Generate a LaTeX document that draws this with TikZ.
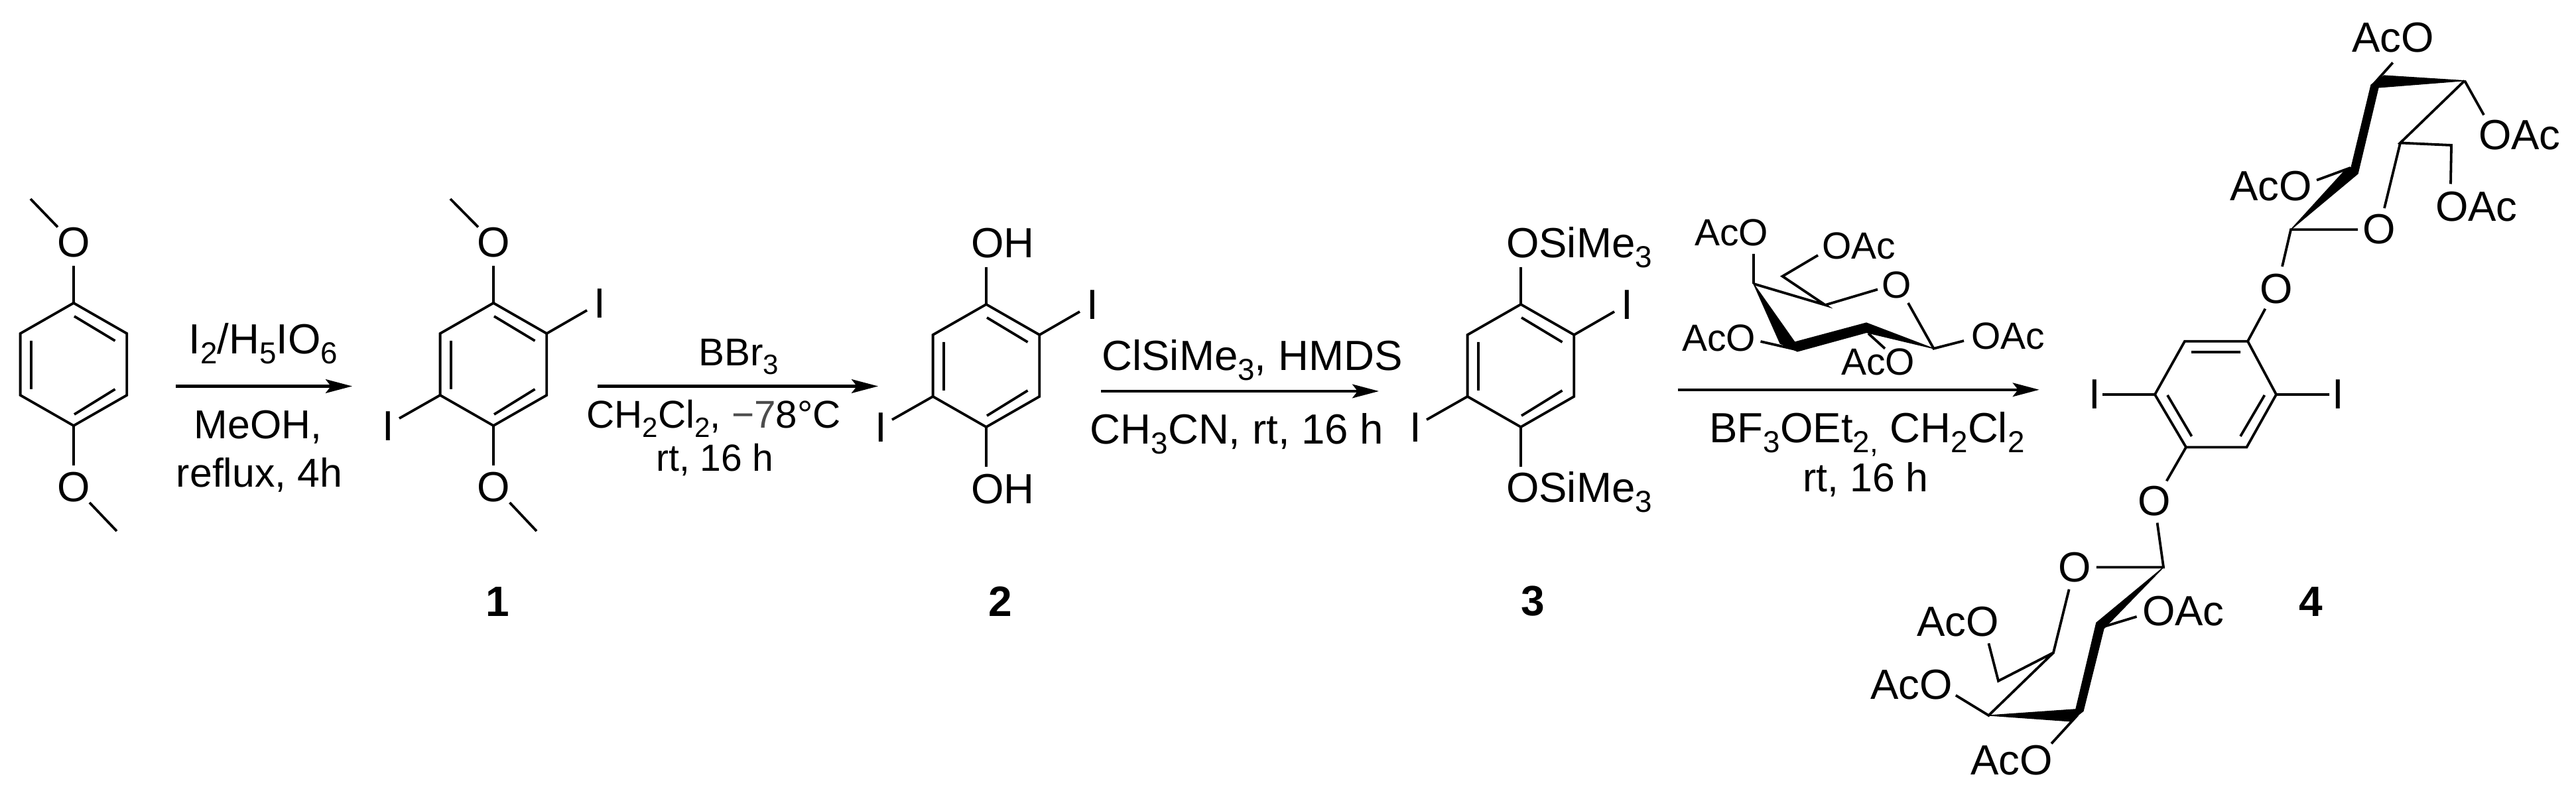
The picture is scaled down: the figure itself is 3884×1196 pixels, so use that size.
\documentclass[tikz,border=0pt]{standalone}
\usepackage{fontspec}
\setmainfont{Liberation Sans}
\usetikzlibrary{arrows.meta}
\newcommand\sbs[1]{\raisebox{-.23em}{\scalebox{.72}{#1}}}
\newcommand\fb{\fontsize{15.9pt}{18pt}\selectfont}
\newcommand\fs{\fontsize{14.25pt}{17pt}\selectfont}
\newcommand\fm{\fontsize{14.6pt}{17pt}\selectfont}
\newcommand\fr{\fontsize{15.2pt}{17pt}\selectfont}
\definecolor{dashgray}{gray}{0.3}
\tikzset{
  bond/.style={line width=.95pt,line cap=butt,line join=miter},
  bold/.style={fill=black,draw=black,line width=.3pt,line join=round},
  rxn/.style={line width=1.05pt,-{Stealth[length=10pt,width=5.2pt,inset=2pt]}},
  lb/.style={inner sep=0pt,outer sep=0pt,font=\fb,anchor=base},
  lbs/.style={inner sep=0pt,outer sep=0pt,font=\fs,anchor=base},
  lbm/.style={inner sep=0pt,outer sep=0pt,font=\fm,anchor=base},
  lbr/.style={inner sep=0pt,outer sep=0pt,font=\fr,anchor=base},
  west/.style={anchor=base west},
  num/.style={inner sep=0pt,outer sep=0pt,font=\fontsize{16pt}{18pt}\selectfont\bfseries,anchor=center}
}
% benzene ring with para O substituents, halogens optional
\newcommand\benzring[3]{%
 \begin{scope}[shift={(#2,#3)}]
  \coordinate (#1a) at (111,457);\coordinate (#1b) at (191.3,503);\coordinate (#1c) at (191.3,596);
  \coordinate (#1d) at (111,642);\coordinate (#1e) at (30.6,596);\coordinate (#1f) at (30.6,503);
  \coordinate (#1ia) at (112,477);\coordinate (#1ib) at (173.5,514);
  \coordinate (#1ic) at (173.5,587);\coordinate (#1id) at (112,625);
  \coordinate (#1ie) at (47,587);\coordinate (#1if) at (47,514);
  \coordinate (#1ot) at (111,401);\coordinate (#1ob) at (111,702);
  \draw[bond] (#1a)--(#1b)--(#1c)--(#1d)--(#1e)--(#1f)--cycle;
  \draw[bond] (#1ia)--(#1ib) (#1ic)--(#1id) (#1ie)--(#1if) (#1a)--(#1ot) (#1d)--(#1ob);
 \end{scope}}
% iodines on a ring
\newcommand\iodines[3]{%
 \begin{scope}[shift={(#2,#3)}]
  \node[lb] (#1it) at (271,480) {I};
  \node[lb] (#1ib) at (-48,665) {I};
  \coordinate (#1ite) at (252,468);\coordinate (#1ibe) at (-31,631);
  \draw[bond] (#1b)--(#1ite) (#1e)--(#1ibe);
 \end{scope}}
\begin{document}
\begin{tikzpicture}[x=.25pt,y=-.25pt]
\useasboundingbox (0,0) rectangle (3884,1196);
% compound 0
\benzring{p}{0}{0}
\node[lb] (pO1) at (111,388) {O};
\node[lb] (pO2) at (111,757) {O};
\coordinate (pm1a) at (46,300);\coordinate (pm1b) at (87,342.5);
\coordinate (pm2a) at (135,758);\coordinate (pm2b) at (176,801);
\draw[bond] (pm1a)--(pm1b) (pm2a)--(pm2b);
% compound 1
\benzring{q}{633}{0}
\iodines{q}{633}{0}
\node[lb] (qO1) at (744,388) {O};
\node[lb] (qO2) at (744,757) {O};
\coordinate (qm1a) at (679,300);\coordinate (qm1b) at (721,342.5);
\coordinate (qm2a) at (768.5,758);\coordinate (qm2b) at (809,801);
\draw[bond] (qm1a)--(qm1b) (qm2a)--(qm2b);
\node[num] (n1) at (750,907) {1};
% arrow 1
\coordinate (a1s) at (265,582.5);\coordinate (a1e) at (531,582.5);
\draw[rxn] (a1s)--(a1e);
\node[lb] (r1a) at (397,533.5) {I\sbs{2}/H\sbs{5}IO\sbs{6}};
\node[lbr] (r1b) at (389,661.5) {MeOH,};
\node[lbr] (r1c) at (391,734.6) {reflux, 4h};
% arrow 2
\coordinate (a2s) at (901,582.5);\coordinate (a2e) at (1324,582.5);
\draw[rxn] (a2s)--(a2e);
\node[lbm] (r2a) at (1114,551.4) {BBr\sbs{3}};
\node[lbm] (r2b) at (1076,646) {CH\sbs{2}Cl\sbs{2}, \textcolor{dashgray}{−7}8°C};
\node[lbs] (r2c) at (1078,711) {rt, 16 h};
% compound 2
\benzring{r}{1376}{2}
\iodines{r}{1376}{2}
\node[lb,west] (rO1) at (1464,389) {OH};
\node[lb,west] (rO2) at (1464,759) {OH};
\node[num] (n2) at (1508,907) {2};
% arrow 3
\coordinate (a3s) at (1660,590);\coordinate (a3e) at (2079,590);
\draw[rxn] (a3s)--(a3e);
\node[lb] (r3a) at (1888,558.7) {ClSiMe\sbs{3}, HMDS};
\node[lb] (r3b) at (1865,670) {CH\sbs{3}CN, rt, 16 h};
% compound 3
\benzring{s}{2182}{2}
\iodines{s}{2182}{2}
\node[lb,west] (sO1) at (2271,389) {OSiMe\sbs{3}};
\node[lb,west] (sO2) at (2271,758) {OSiMe\sbs{3}};
\node[num] (n3) at (2311.5,907) {3};
% reagent sugar
\coordinate (g4) at (2644,428);\coordinate (g5) at (2752,460);\coordinate (g6) at (2687.5,416.7);
\coordinate (g1) at (2915.5,525.7);
\coordinate (g4o) at (2644,383);\coordinate (g6o) at (2741,385);\coordinate (g5o) at (2831,436.5);
\coordinate (g1r) at (2877,457);\coordinate (g1o) at (2961,514);
\coordinate (g3o) at (2654.5,515);\coordinate (g3a) at (2707,527);
\coordinate (g2a) at (2817,503);\coordinate (g2o) at (2842,525.7);
\coordinate (gw1) at (2706,516);\coordinate (gw2) at (2814,487);\coordinate (gw3) at (2814,501.5);
\coordinate (gw4) at (2710,530);\coordinate (gw5) at (2684,518);
\draw[bold] (g4)--(gw1)--(gw2)--(g1)--(gw3)--(gw4)--(gw5)--cycle;
\draw[bond] (g4)--(g5)--(g6)--(g6o) (g4)--(g4o) (g5)--(g5o) (g1r)--(g1)--(g1o) (g3o)--(g3a) (g2a)--(g2o);
\node[lbs,west] (gt1) at (2555,371) {AcO};
\node[lbs,west] (gt2) at (2747,390.5) {OAc};
\node[lbs] (gt3) at (2860,449.5) {O};
\node[lbs,west] (gt4) at (2972,527) {OAc};
\node[lbs,west] (gt5) at (2536,529.6) {AcO};
\node[lbs,west] (gt6) at (2776,566) {AcO};
% arrow 4
\coordinate (a4s) at (2529.6,587.8);\coordinate (a4e) at (3074.7,587.8);
\draw[rxn] (a4s)--(a4e);
\node[lb] (r4a) at (2815,667.8) {BF\sbs{3}OEt\sbs{2}\sbs{,} CH\sbs{2}Cl\sbs{2}};
\node[lbr] (r4b) at (2813,742) {rt, 16 h};
% compound 4 ring
\coordinate (ka) at (3294,514.7);\coordinate (kb) at (3389,514.7);\coordinate (kc) at (3432,595);
\coordinate (kd) at (3387.4,674.5);\coordinate (ke) at (3296,674.5);\coordinate (kf) at (3249,595);
\coordinate (kia) at (3304,531);\coordinate (kib) at (3378,531);
\coordinate (kic) at (3414.4,596);\coordinate (kid) at (3378,658);
\coordinate (kie) at (3304.5,658);\coordinate (kif) at (3268,596);
\coordinate (kil) at (3170,595);\coordinate (kir) at (3512,595);
\draw[bond] (ka)--(kb)--(kc)--(kd)--(ke)--(kf)--cycle;
\draw[bond] (kia)--(kib) (kic)--(kid) (kie)--(kif) (kf)--(kil) (kc)--(kir);
\node[lb] (kI1) at (3158,617) {I};
\node[lb] (kI2) at (3525.4,617) {I};
\node[lb] (kO1) at (3432,458) {O};
\node[lb] (kO2) at (3248,777) {O};
\coordinate (koa) at (3415.4,465.7);\coordinate (kob) at (3266.7,725.4);
\draw[bond] (kb)--(koa) (ke)--(kob);
% top sugar
\coordinate (u3) at (3577.8,128);\coordinate (u3o) at (3607.7,94.5);
\coordinate (u4) at (3716,121.7);\coordinate (u4o) at (3745,173.4);
\coordinate (u5) at (3619,215.5);\coordinate (u6) at (3696,219);\coordinate (u6o) at (3695,277.5);
\coordinate (u5o) at (3595,314);\coordinate (u1r) at (3555,346.3);\coordinate (u1) at (3454,346.3);
\coordinate (u1o) at (3441,402);
\coordinate (u2o) at (3493,271.7);\coordinate (u2) at (3544,253);
\coordinate (uw1) at (3575,128);\coordinate (uw2) at (3594.7,114);\coordinate (uw3) at (3586,132);
\coordinate (uw4) at (3555,262);\coordinate (uw5) at (3532.7,260);\coordinate (uw6) at (3545,252.6);
\draw[bold] (uw1)--(uw2)--(u4)--(uw3)--(uw4)--(u1)--(uw5)--(uw6)--cycle;
\draw[bond] (u3)--(u3o) (u4)--(u4o) (u4)--(u5)--(u6)--(u6o) (u5)--(u5o) (u1r)--(u1)--(u1o) (u2o)--(u2);
\node[lb,west] (ut1) at (3546,78.5) {AcO};
\node[lb,west] (ut2) at (3737,225.8) {OAc};
\node[lb,west] (ut3) at (3672,334) {OAc};
\node[lb] (ut4) at (3587,368) {O};
\node[lb,west] (ut5) at (3362.5,303) {AcO};
% bottom sugar
\coordinate (v1top) at (3252.6,788.5);\coordinate (v1) at (3262,855.5);\coordinate (v1r) at (3160.8,855.5);
\coordinate (v5o) at (3119.6,888.8);\coordinate (v5) at (3096,984.4);\coordinate (v6) at (3013,1027);
\coordinate (v6o) at (2998.4,970.3);\coordinate (v4) at (2998.4,1079);\coordinate (v4o) at (2948.8,1048.7);
\coordinate (vw1) at (3129.8,1069.8);\coordinate (vw2) at (3141,1072.5);\coordinate (vw3) at (3121.3,1087.8);
\coordinate (vw4) at (3160.8,939.3);\coordinate (vw5) at (3172,948);
\coordinate (v3a) at (3132.6,1078.2);\coordinate (v3o) at (3093,1121.5);
\coordinate (v2a) at (3169,946);\coordinate (v2o) at (3221.6,930);
\draw[bold] (v4)--(vw1)--(vw4)--(v1)--(vw5)--(vw2)--(vw3)--cycle;
\draw[bond] (v1top)--(v1)--(v1r) (v5o)--(v5)--(v6)--(v6o) (v5)--(v4)--(v4o) (v3a)--(v3o) (v2a)--(v2o);
\node[lb] (vt1) at (3128,877) {O};
\node[lb,west] (vt2) at (2890,959.6) {AcO};
\node[lb,west] (vt3) at (2820,1054.5) {AcO};
\node[lb,west] (vt4) at (2971,1168.9) {AcO};
\node[lb,west] (vt5) at (3230,943) {OAc};
\node[num] (n4) at (3484,907.7) {4};
\end{tikzpicture}
\end{document}
